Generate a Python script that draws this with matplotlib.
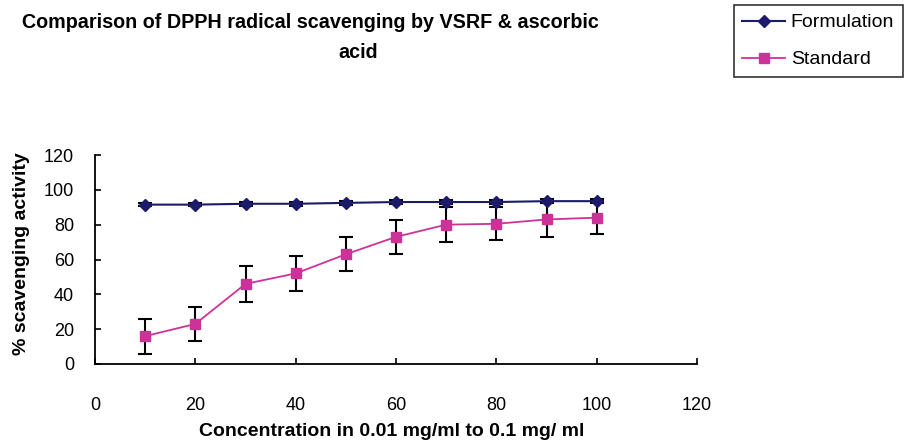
import matplotlib.pyplot as plt
from matplotlib.lines import Line2D

plt.rcParams["font.family"] = ["Liberation Sans", "DejaVu Sans"]

concentration = [10, 20, 30, 40, 50, 60, 70, 80, 90, 100]
formulation = [91.5, 91.5, 92, 92, 92.5, 93, 93, 93, 93.5, 93.5]
formulation_err = [1, 1, 1, 1, 1, 1, 1, 1, 1, 1]
standard = [16, 23, 46, 52, 63, 73, 80, 80.5, 83, 84]
standard_err = [10, 10, 10.5, 10, 9.7, 9.7, 10, 9.5, 10, 9.5]

x_ticks = [0, 20, 40, 60, 80, 100, 120]
y_ticks = [0, 20, 40, 60, 80, 100, 120]

NAVY = "#1c1a6b"
MAGENTA = "#cc3399"

fig = plt.figure(figsize=(9.08, 4.41), dpi=100)
ax = fig.add_axes([95 / 908, 1 - 364 / 441, (697 - 95) / 908, (364 - 155) / 441])

ax.errorbar(concentration, standard, yerr=standard_err, color=MAGENTA, marker="s",
            markersize=7, linewidth=1.3, ecolor="black", elinewidth=1.5, capsize=5,
            capthick=1.5, zorder=3)
ax.errorbar(concentration, formulation, yerr=formulation_err, color=NAVY, marker="D",
            markersize=6, linewidth=1.5, ecolor="black", elinewidth=1.2, capsize=5,
            capthick=1.5, zorder=4)

ax.set_xlim(0, 120)
ax.set_ylim(0, 120)
ax.set_xticks(x_ticks)
ax.set_yticks(y_ticks)
ax.tick_params(direction="in", length=4, width=1.2, labelsize=13, colors="black")
ax.tick_params(axis="x", pad=24)
ax.tick_params(axis="y", pad=15)
for side in ["top", "right"]:
    ax.spines[side].set_visible(False)
for side in ["left", "bottom"]:
    ax.spines[side].set_linewidth(1.3)

fig.text(392 / 908, 1 - 431 / 441, "Concentration in 0.01 mg/ml to 0.1 mg/ ml",
         ha="center", va="center", fontsize=14, fontweight="bold")
fig.text(22 / 908, 1 - 254 / 441, "% scavenging activity", rotation=90,
         ha="center", va="center", fontsize=14, fontweight="bold")

fig.text(310 / 908, 1 - 22 / 441,
         "Comparison of DPPH radical scavenging by VSRF & ascorbic",
         ha="center", va="center", fontsize=14.2, fontweight="bold")
fig.text(358 / 908, 1 - 52 / 441, "acid",
         ha="center", va="center", fontsize=14.2, fontweight="bold")

handles = [
    Line2D([], [], color=NAVY, marker="D", markersize=6, linewidth=1.5),
    Line2D([], [], color=MAGENTA, marker="s", markersize=7, linewidth=1.3),
]
leg = fig.legend(handles, ["Formulation", "Standard"], loc="upper right",
                 bbox_to_anchor=(903 / 908, 1 - 5 / 441), fontsize=14,
                 frameon=True, fancybox=False, edgecolor="black",
                 handlelength=2.2, handletextpad=0.3, labelspacing=1.0,
                 borderpad=0.45, borderaxespad=0)
leg.get_frame().set_linewidth(1.2)

fig.savefig("out.png", dpi=100)
